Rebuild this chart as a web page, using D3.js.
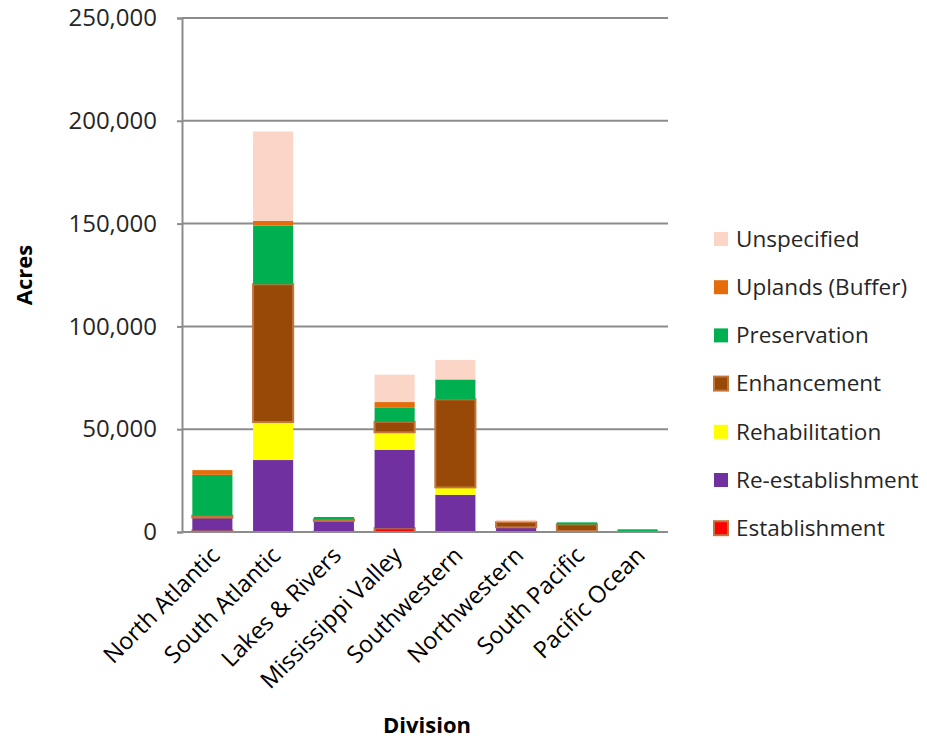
<html>
<style>
body { margin: 0; background: #fff; }
text { font-family: "Open Sans", "Liberation Sans", sans-serif; }
</style>
<body>
<script src="https://d3js.org/d3.v7.min.js"></script>
<script>

var width = 927,
    height = 742;

var divisions = ["North Atlantic", "South Atlantic", "Lakes & Rivers", "Mississippi Valley",
                 "Southwestern", "Northwestern", "South Pacific", "Pacific Ocean"];

// stacked bottom -> top
var seriesNames = ["Establishment", "Re-establishment", "Rehabilitation", "Enhancement",
                   "Preservation", "Uplands (Buffer)", "Unspecified"];

var establishment   = [700,   0,     200,  1800,  0,     100,  0,    0];
var reEstablishment = [6300,  35000, 5200, 38200, 18100, 2200, 500,  0];
var rehabilitation  = [0,     18500, 0,    8500,  3600,  0,    0,    0];
var enhancement     = [900,   67000, 700,  5100,  42800, 2500, 3200, 100];
var preservation    = [19900, 28500, 1200, 6800,  9700,  0,    1000, 1200];
var uplands         = [2300,  2300,  0,    2800,  0,     300,  0,    0];
var unspecified     = [0,     43500, 0,    13300, 9500,  800,  0,    0];

var yTicks = [0, 50000, 100000, 150000, 200000, 250000];

var colors = ["#ff0000", "#7030a0", "#ffff00", "#984807", "#00b050", "#e46c0a", "#fbd5c5"];
var bordered = {"Establishment": true, "Enhancement": true};

var seriesValues = [establishment, reEstablishment, rehabilitation, enhancement,
                    preservation, uplands, unspecified];

var table = divisions.map(function(d, i) {
  var row = {division: d};
  seriesNames.forEach(function(s, j) { row[s] = seriesValues[j][i]; });
  return row;
});

var margin = {top: 18, left: 182, right: 259, bottom: 210};

var x = d3.scaleBand()
    .domain(divisions)
    .range([margin.left, width - margin.right])
    .paddingInner(0.34)
    .paddingOuter(0.17);

var y = d3.scaleLinear()
    .domain([0, 250000])
    .range([height - margin.bottom, margin.top]);

var color = d3.scaleOrdinal().domain(seriesNames).range(colors);

var svg = d3.select("body").append("svg")
    .attr("width", width)
    .attr("height", height);

// gridlines
svg.append("g")
    .selectAll("line")
    .data(yTicks.slice(1))
    .enter().append("line")
    .attr("x1", margin.left)
    .attr("x2", width - margin.right)
    .attr("y1", d => y(d))
    .attr("y2", d => y(d))
    .style("stroke", "#8c8c8c")
    .style("stroke-width", 2);

var stack = d3.stack().keys(seriesNames);
var layers = stack(table);

svg.append("g")
    .selectAll("g")
    .data(layers)
    .enter().append("g")
    .style("fill", d => color(d.key))
    .each(function(layer) {
      d3.select(this).selectAll("rect")
        .data(layer.filter(d => d[1] - d[0] > 0))
        .enter().append("rect")
        .attr("x", d => x(d.data.division))
        .attr("width", x.bandwidth())
        .attr("y", d => y(d[1]))
        .attr("height", d => y(d[0]) - y(d[1]))
        .style("stroke", bordered[layer.key] ? "#c0763d" : "none")
        .style("stroke-width", bordered[layer.key] ? 2 : 0);
    });

// y axis
var yAxis = d3.axisLeft(y)
    .tickValues(yTicks)
    .tickFormat(d3.format(",d"))
    .tickSize(5)
    .tickPadding(20);

var gy = svg.append("g")
    .attr("transform", "translate(" + margin.left + ",0)")
    .call(yAxis);
gy.select(".domain").style("stroke", "#8c8c8c").style("stroke-width", 2);
gy.selectAll(".tick line").style("stroke", "#8c8c8c").style("stroke-width", 2);
gy.selectAll(".tick text")
    .style("font-size", "24px")
    .style("fill", "#262626");

// x axis
var xAxis = d3.axisBottom(x).tickSize(0).tickPadding(0);
var gx = svg.append("g")
    .attr("transform", "translate(0," + y(0) + ")")
    .call(xAxis);
gx.select(".domain")
    .attr("d", "M" + margin.left + ",0H" + (width - margin.right))
    .style("stroke", "#8c8c8c").style("stroke-width", 2);
gx.selectAll(".tick text")
    .style("font-size", "23.5px")
    .style("fill", "#000")
    .style("text-anchor", "end")
    .attr("dy", "0.35em")
    .attr("transform", "translate(3,19) rotate(-45)");

// axis titles
svg.append("text")
    .attr("transform", "translate(32," + ((margin.top + y(0)) / 2) + ") rotate(-90)")
    .attr("text-anchor", "middle")
    .style("font-size", "22px")
    .style("font-weight", "bold")
    .text("Acres");

svg.append("text")
    .attr("x", 427)
    .attr("y", 733)
    .attr("text-anchor", "middle")
    .style("font-size", "22px")
    .style("font-weight", "bold")
    .text("Division");

// legend
var legend = svg.append("g")
    .selectAll("g")
    .data(seriesNames.slice().reverse())
    .enter().append("g")
    .attr("transform", (d, i) => "translate(714," + (239 + i * 48.2) + ")");

legend.append("rect")
    .attr("x", 0)
    .attr("y", -7)
    .attr("width", 14)
    .attr("height", 14)
    .style("fill", d => color(d))
    .style("stroke", d => bordered[d] ? "#c0763d" : "none")
    .style("stroke-width", 2);

legend.append("text")
    .attr("x", 22)
    .attr("dy", "0.35em")
    .style("font-size", "22.5px")
    .style("fill", "#262626")
    .text(d => d);

</script>
</body>
</html>
